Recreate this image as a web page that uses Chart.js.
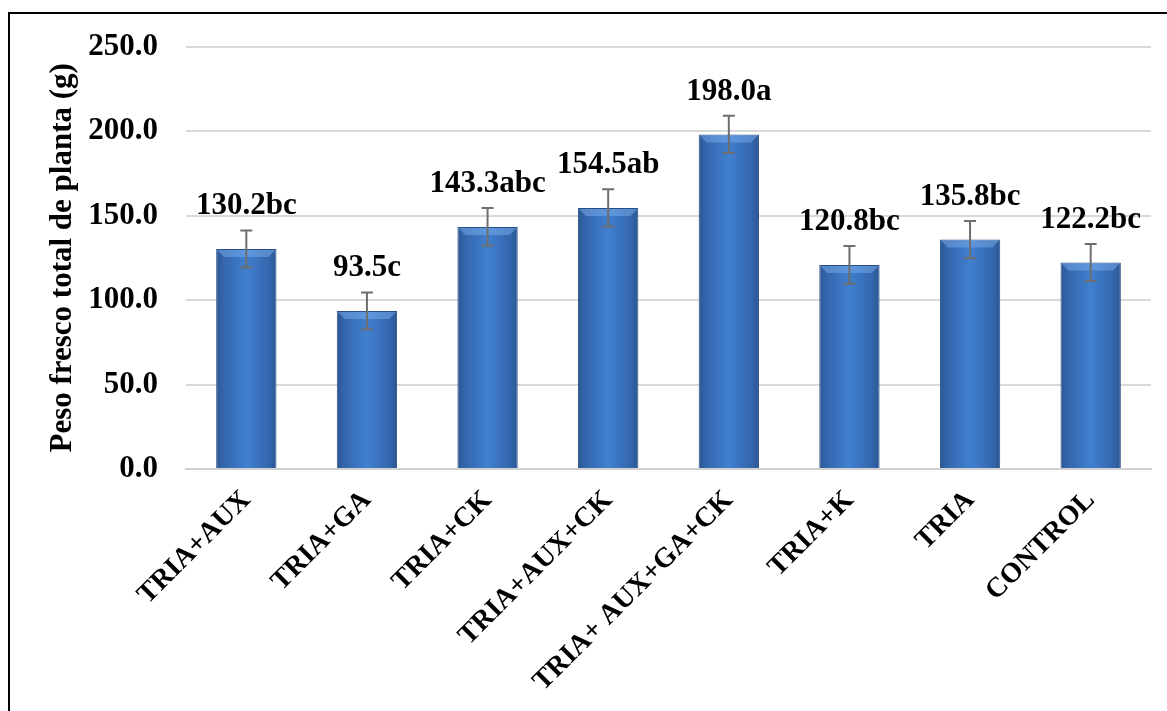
<!DOCTYPE html>
<html>
<head>
<meta charset="utf-8">
<script src="https://cdn.jsdelivr.net/npm/chart.js@4.4.1/dist/chart.umd.min.js"></script>
<style>
  html, body { margin: 0; padding: 0; background: #fff; overflow: hidden; }
  #marco {
    position: absolute; left: 8px; top: 12px;
    width: 1180px; height: 720px;
    border: 2px solid #000; box-sizing: border-box;
  }
  #grafico { position: absolute; left: 0; top: 0; }
</style>
</head>
<body>
<div id="marco"></div>
<canvas id="grafico" width="1167" height="711"></canvas>
<script>
// dati
const tratamientos = ["TRIA+AUX", "TRIA+GA", "TRIA+CK", "TRIA+AUX+CK", "TRIA+ AUX+GA+CK", "TRIA+K", "TRIA", "CONTROL"];
const pesoFresco = [130.2, 93.5, 143.3, 154.5, 198.0, 120.8, 135.8, 122.2];
const errores = [11.0, 11.0, 11.2, 11.0, 11.0, 11.2, 11.0, 11.0];
const letras = ["bc", "c", "abc", "ab", "a", "bc", "bc", "bc"];

const FONT = "'Liberation Serif', 'Times New Roman', serif";

function gradienteBarra(context) {
    const chart = context.chart;
    const xs = chart.scales.x;
    if (!xs || !chart.chartArea) return "#3c78c8";
    const cx = xs.getPixelForValue(context.dataIndex);
    const half = (chart.chartArea.width / tratamientos.length) * 0.5 / 2;
    const g = chart.ctx.createLinearGradient(cx - half, 0, cx + half, 0);
    g.addColorStop(0, "#2a5590");
    g.addColorStop(0.1, "#3364aa");
    g.addColorStop(0.5, "#4080d0");
    g.addColorStop(0.9, "#3364aa");
    g.addColorStop(1, "#2a5590");
    return g;
}

// bisello, barre di errore ed etichette
const decoraciones = {
    id: "decoraciones",
    afterDatasetsDraw(chart) {
        const ctx = chart.ctx;
        const ys = chart.scales.y;
        const meta = chart.getDatasetMeta(0);
        meta.data.forEach((bar, i) => {
            const half = bar.width / 2;
            const left = bar.x - half, right = bar.x + half;
            const top = bar.y;
            // bisello superiore
            ctx.save();
            ctx.fillStyle = "rgba(130, 180, 240, 0.45)";
            ctx.beginPath();
            ctx.moveTo(left + 1, top + 1);
            ctx.lineTo(right - 1, top + 1);
            ctx.lineTo(right - 8, top + 8);
            ctx.lineTo(left + 8, top + 8);
            ctx.closePath();
            ctx.fill();
            ctx.restore();

            // barra di errore
            const yTop = ys.getPixelForValue(pesoFresco[i] + errores[i]);
            const yBot = ys.getPixelForValue(pesoFresco[i] - errores[i]);
            ctx.save();
            ctx.strokeStyle = "#6e6e6e";
            ctx.lineWidth = 2;
            ctx.beginPath();
            ctx.moveTo(bar.x, yTop);
            ctx.lineTo(bar.x, yBot);
            ctx.moveTo(bar.x - 6, yTop);
            ctx.lineTo(bar.x + 6, yTop);
            ctx.moveTo(bar.x - 6, yBot);
            ctx.lineTo(bar.x + 6, yBot);
            ctx.stroke();
            ctx.restore();

            // etichetta
            ctx.save();
            ctx.fillStyle = "#000";
            ctx.font = "bold 31px " + FONT;
            ctx.textAlign = "center";
            ctx.textBaseline = "alphabetic";
            ctx.fillText(pesoFresco[i].toFixed(1) + letras[i], bar.x, yTop - 16);
            ctx.restore();
        });
    }
};

const ctx = document.getElementById("grafico").getContext("2d");

new Chart(ctx, {
    type: "bar",
    data: {
        labels: tratamientos,
        datasets: [{
            data: pesoFresco,
            backgroundColor: gradienteBarra,
            borderColor: "#284f88",
            borderWidth: 1,
            categoryPercentage: 1,
            barPercentage: 0.5
        }]
    },
    options: {
        responsive: false,
        animation: false,
        layout: {
            padding: { left: 44, right: 16, top: 44, bottom: 0 }
        },
        plugins: {
            legend: { display: false },
            tooltip: { enabled: false }
        },
        scales: {
            x: {
                grid: { display: false, drawTicks: false },
                border: { color: "#d0d0d0", width: 2 },
                ticks: {
                    color: "#000",
                    font: { family: FONT, size: 28, weight: "bold" },
                    minRotation: 45,
                    maxRotation: 45,
                    autoSkip: false,
                    padding: 15
                },
                afterFit(scale) { scale.height = 242; }
            },
            y: {
                min: 0,
                max: 250,
                grid: { color: "#d9d9d9", lineWidth: 2, drawTicks: false },
                border: { display: false },
                ticks: {
                    stepSize: 50,
                    color: "#000",
                    padding: 28,
                    font: { family: FONT, size: 31, weight: "bold" },
                    callback: (v) => Number(v).toFixed(1)
                },
                title: {
                    display: true,
                    text: "Peso fresco total de planta (g)",
                    color: "#000",
                    font: { family: FONT, size: 31, weight: "bold" },
                    padding: 0
                },
                afterFit(scale) { scale.width = 142; }
            }
        }
    },
    plugins: [decoraciones]
});
</script>
</body>
</html>
